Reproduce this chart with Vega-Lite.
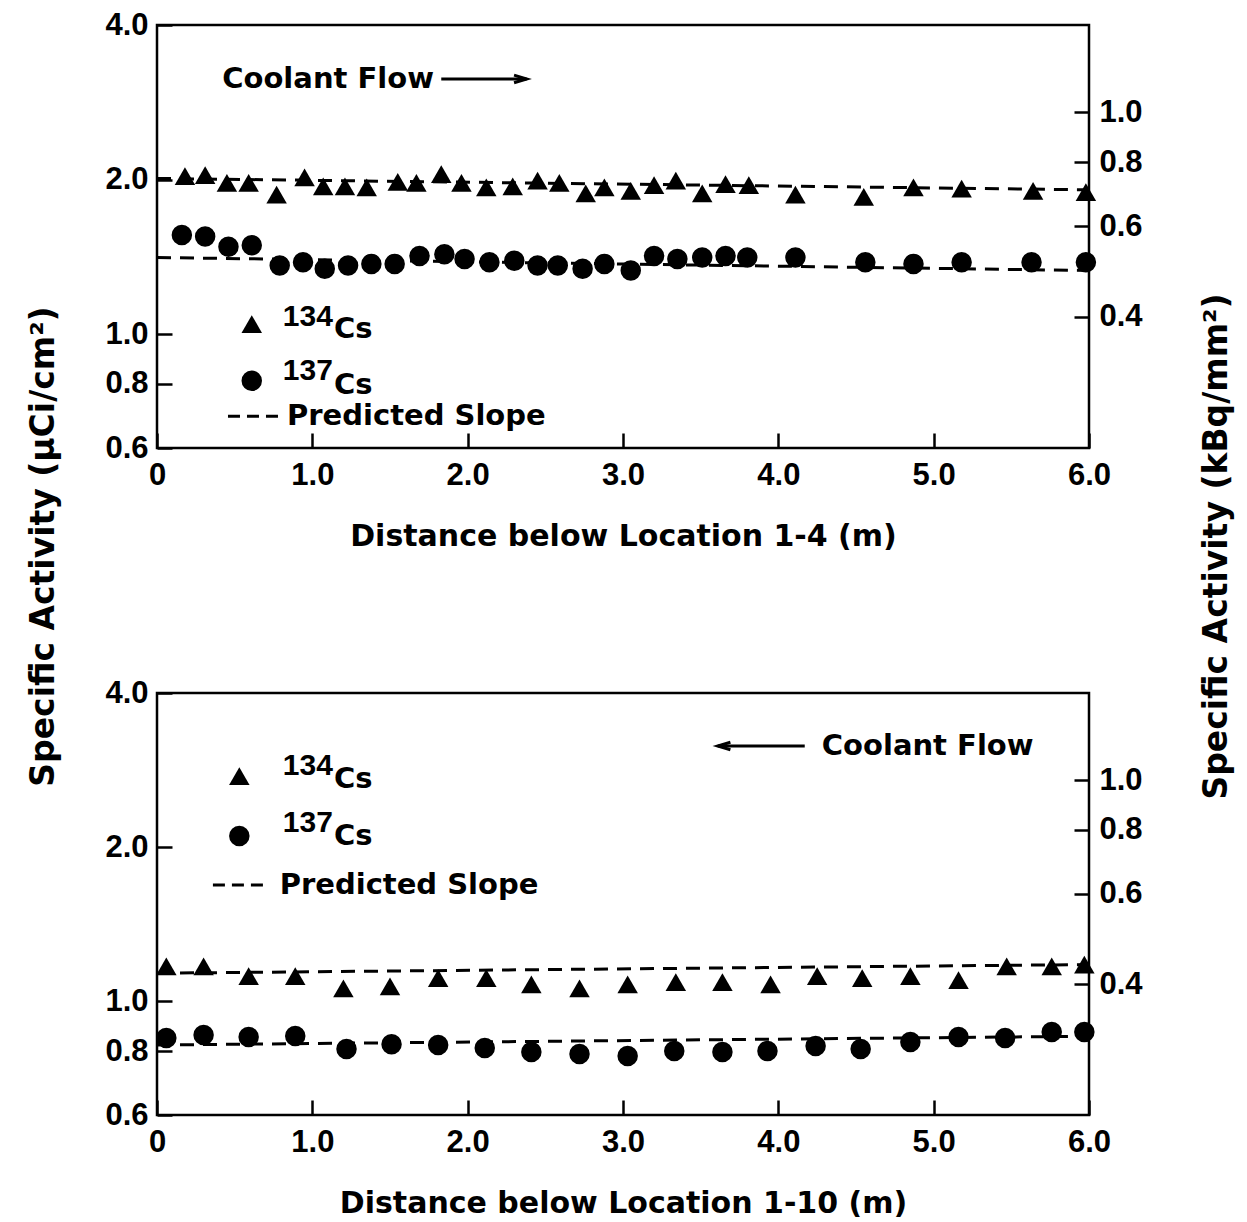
{
  "$schema": "https://vega.github.io/schema/vega-lite/v6.json",
  "background": "white",
  "padding": {"left": 25, "top": 7, "right": 5, "bottom": 5},
  "bounds": "flush",
  "spacing": 245,
  "config": {
    "view": {"stroke": "black", "strokeWidth": 2.5},
    "axis": {
      "grid": false, "domain": false, "ticks": true, "tickColor": "black", "tickWidth": 2.5, "tickSize": -15,
      "labelFont": "Liberation Sans", "labelFontWeight": "bold", "labelFontSize": 31, "labelColor": "black",
      "titleFont": "DejaVu Sans", "titleFontWeight": "bold", "titleFontSize": 30, "titleColor": "black"
    }
  },
  "datasets": {
    "points": [
      {"panel": "top", "nuclide": "134Cs", "distance": 0.18, "activity": 2.03},
      {"panel": "top", "nuclide": "134Cs", "distance": 0.31, "activity": 2.04},
      {"panel": "top", "nuclide": "134Cs", "distance": 0.45, "activity": 1.97},
      {"panel": "top", "nuclide": "134Cs", "distance": 0.59, "activity": 1.97},
      {"panel": "top", "nuclide": "134Cs", "distance": 0.77, "activity": 1.87},
      {"panel": "top", "nuclide": "134Cs", "distance": 0.95, "activity": 2.02},
      {"panel": "top", "nuclide": "134Cs", "distance": 1.07, "activity": 1.94},
      {"panel": "top", "nuclide": "134Cs", "distance": 1.21, "activity": 1.94},
      {"panel": "top", "nuclide": "134Cs", "distance": 1.35, "activity": 1.93},
      {"panel": "top", "nuclide": "134Cs", "distance": 1.55, "activity": 1.98},
      {"panel": "top", "nuclide": "134Cs", "distance": 1.67, "activity": 1.97},
      {"panel": "top", "nuclide": "134Cs", "distance": 1.83, "activity": 2.05},
      {"panel": "top", "nuclide": "134Cs", "distance": 1.96, "activity": 1.97},
      {"panel": "top", "nuclide": "134Cs", "distance": 2.12, "activity": 1.93},
      {"panel": "top", "nuclide": "134Cs", "distance": 2.29, "activity": 1.94},
      {"panel": "top", "nuclide": "134Cs", "distance": 2.45, "activity": 1.99},
      {"panel": "top", "nuclide": "134Cs", "distance": 2.59, "activity": 1.97},
      {"panel": "top", "nuclide": "134Cs", "distance": 2.76, "activity": 1.88},
      {"panel": "top", "nuclide": "134Cs", "distance": 2.88, "activity": 1.93},
      {"panel": "top", "nuclide": "134Cs", "distance": 3.05, "activity": 1.9},
      {"panel": "top", "nuclide": "134Cs", "distance": 3.2, "activity": 1.95},
      {"panel": "top", "nuclide": "134Cs", "distance": 3.34, "activity": 1.99},
      {"panel": "top", "nuclide": "134Cs", "distance": 3.51, "activity": 1.88},
      {"panel": "top", "nuclide": "134Cs", "distance": 3.66, "activity": 1.96},
      {"panel": "top", "nuclide": "134Cs", "distance": 3.81, "activity": 1.95},
      {"panel": "top", "nuclide": "134Cs", "distance": 4.11, "activity": 1.87},
      {"panel": "top", "nuclide": "134Cs", "distance": 4.55, "activity": 1.85},
      {"panel": "top", "nuclide": "134Cs", "distance": 4.87, "activity": 1.93},
      {"panel": "top", "nuclide": "134Cs", "distance": 5.18, "activity": 1.92},
      {"panel": "top", "nuclide": "134Cs", "distance": 5.64, "activity": 1.9},
      {"panel": "top", "nuclide": "134Cs", "distance": 5.98, "activity": 1.89},
      {"panel": "top", "nuclide": "137Cs", "distance": 0.16, "activity": 1.56},
      {"panel": "top", "nuclide": "137Cs", "distance": 0.31, "activity": 1.55},
      {"panel": "top", "nuclide": "137Cs", "distance": 0.46, "activity": 1.48},
      {"panel": "top", "nuclide": "137Cs", "distance": 0.61, "activity": 1.49},
      {"panel": "top", "nuclide": "137Cs", "distance": 0.79, "activity": 1.36},
      {"panel": "top", "nuclide": "137Cs", "distance": 0.94, "activity": 1.38},
      {"panel": "top", "nuclide": "137Cs", "distance": 1.08, "activity": 1.34},
      {"panel": "top", "nuclide": "137Cs", "distance": 1.23, "activity": 1.36},
      {"panel": "top", "nuclide": "137Cs", "distance": 1.38, "activity": 1.37},
      {"panel": "top", "nuclide": "137Cs", "distance": 1.53, "activity": 1.37},
      {"panel": "top", "nuclide": "137Cs", "distance": 1.69, "activity": 1.42},
      {"panel": "top", "nuclide": "137Cs", "distance": 1.85, "activity": 1.43},
      {"panel": "top", "nuclide": "137Cs", "distance": 1.98, "activity": 1.4},
      {"panel": "top", "nuclide": "137Cs", "distance": 2.14, "activity": 1.38},
      {"panel": "top", "nuclide": "137Cs", "distance": 2.3, "activity": 1.39},
      {"panel": "top", "nuclide": "137Cs", "distance": 2.45, "activity": 1.36},
      {"panel": "top", "nuclide": "137Cs", "distance": 2.58, "activity": 1.36},
      {"panel": "top", "nuclide": "137Cs", "distance": 2.74, "activity": 1.34},
      {"panel": "top", "nuclide": "137Cs", "distance": 2.88, "activity": 1.37},
      {"panel": "top", "nuclide": "137Cs", "distance": 3.05, "activity": 1.33},
      {"panel": "top", "nuclide": "137Cs", "distance": 3.2, "activity": 1.42},
      {"panel": "top", "nuclide": "137Cs", "distance": 3.35, "activity": 1.4},
      {"panel": "top", "nuclide": "137Cs", "distance": 3.51, "activity": 1.41},
      {"panel": "top", "nuclide": "137Cs", "distance": 3.66, "activity": 1.42},
      {"panel": "top", "nuclide": "137Cs", "distance": 3.8, "activity": 1.41},
      {"panel": "top", "nuclide": "137Cs", "distance": 4.11, "activity": 1.41},
      {"panel": "top", "nuclide": "137Cs", "distance": 4.56, "activity": 1.38},
      {"panel": "top", "nuclide": "137Cs", "distance": 4.87, "activity": 1.37},
      {"panel": "top", "nuclide": "137Cs", "distance": 5.18, "activity": 1.38},
      {"panel": "top", "nuclide": "137Cs", "distance": 5.63, "activity": 1.38},
      {"panel": "top", "nuclide": "137Cs", "distance": 5.98, "activity": 1.38},
      {"panel": "bottom", "nuclide": "134Cs", "distance": 0.06, "activity": 1.17},
      {"panel": "bottom", "nuclide": "134Cs", "distance": 0.3, "activity": 1.17},
      {"panel": "bottom", "nuclide": "134Cs", "distance": 0.59, "activity": 1.12},
      {"panel": "bottom", "nuclide": "134Cs", "distance": 0.89, "activity": 1.12},
      {"panel": "bottom", "nuclide": "134Cs", "distance": 1.2, "activity": 1.06},
      {"panel": "bottom", "nuclide": "134Cs", "distance": 1.5, "activity": 1.07},
      {"panel": "bottom", "nuclide": "134Cs", "distance": 1.81, "activity": 1.11},
      {"panel": "bottom", "nuclide": "134Cs", "distance": 2.12, "activity": 1.11},
      {"panel": "bottom", "nuclide": "134Cs", "distance": 2.41, "activity": 1.08},
      {"panel": "bottom", "nuclide": "134Cs", "distance": 2.72, "activity": 1.06},
      {"panel": "bottom", "nuclide": "134Cs", "distance": 3.03, "activity": 1.08},
      {"panel": "bottom", "nuclide": "134Cs", "distance": 3.34, "activity": 1.09},
      {"panel": "bottom", "nuclide": "134Cs", "distance": 3.64, "activity": 1.09},
      {"panel": "bottom", "nuclide": "134Cs", "distance": 3.95, "activity": 1.08},
      {"panel": "bottom", "nuclide": "134Cs", "distance": 4.25, "activity": 1.12},
      {"panel": "bottom", "nuclide": "134Cs", "distance": 4.54, "activity": 1.11},
      {"panel": "bottom", "nuclide": "134Cs", "distance": 4.85, "activity": 1.12},
      {"panel": "bottom", "nuclide": "134Cs", "distance": 5.16, "activity": 1.1},
      {"panel": "bottom", "nuclide": "134Cs", "distance": 5.47, "activity": 1.17},
      {"panel": "bottom", "nuclide": "134Cs", "distance": 5.76, "activity": 1.17},
      {"panel": "bottom", "nuclide": "134Cs", "distance": 5.97, "activity": 1.18},
      {"panel": "bottom", "nuclide": "137Cs", "distance": 0.06, "activity": 0.848},
      {"panel": "bottom", "nuclide": "137Cs", "distance": 0.3, "activity": 0.86},
      {"panel": "bottom", "nuclide": "137Cs", "distance": 0.59, "activity": 0.852},
      {"panel": "bottom", "nuclide": "137Cs", "distance": 0.89, "activity": 0.856},
      {"panel": "bottom", "nuclide": "137Cs", "distance": 1.22, "activity": 0.807},
      {"panel": "bottom", "nuclide": "137Cs", "distance": 1.51, "activity": 0.825},
      {"panel": "bottom", "nuclide": "137Cs", "distance": 1.81, "activity": 0.822},
      {"panel": "bottom", "nuclide": "137Cs", "distance": 2.11, "activity": 0.811},
      {"panel": "bottom", "nuclide": "137Cs", "distance": 2.41, "activity": 0.796},
      {"panel": "bottom", "nuclide": "137Cs", "distance": 2.72, "activity": 0.789},
      {"panel": "bottom", "nuclide": "137Cs", "distance": 3.03, "activity": 0.782},
      {"panel": "bottom", "nuclide": "137Cs", "distance": 3.33, "activity": 0.8},
      {"panel": "bottom", "nuclide": "137Cs", "distance": 3.64, "activity": 0.796},
      {"panel": "bottom", "nuclide": "137Cs", "distance": 3.93, "activity": 0.8},
      {"panel": "bottom", "nuclide": "137Cs", "distance": 4.24, "activity": 0.818},
      {"panel": "bottom", "nuclide": "137Cs", "distance": 4.53, "activity": 0.807},
      {"panel": "bottom", "nuclide": "137Cs", "distance": 4.85, "activity": 0.833},
      {"panel": "bottom", "nuclide": "137Cs", "distance": 5.16, "activity": 0.852},
      {"panel": "bottom", "nuclide": "137Cs", "distance": 5.46, "activity": 0.848},
      {"panel": "bottom", "nuclide": "137Cs", "distance": 5.76, "activity": 0.871},
      {"panel": "bottom", "nuclide": "137Cs", "distance": 5.97, "activity": 0.871}
    ],
    "predicted": [
      {"panel": "top", "nuclide": "134Cs", "distance": 0, "activity": 2.01},
      {"panel": "top", "nuclide": "134Cs", "distance": 6, "activity": 1.91},
      {"panel": "top", "nuclide": "137Cs", "distance": 0, "activity": 1.41},
      {"panel": "top", "nuclide": "137Cs", "distance": 6, "activity": 1.33},
      {"panel": "bottom", "nuclide": "134Cs", "distance": 0, "activity": 1.135},
      {"panel": "bottom", "nuclide": "134Cs", "distance": 6, "activity": 1.18},
      {"panel": "bottom", "nuclide": "137Cs", "distance": 0, "activity": 0.822},
      {"panel": "bottom", "nuclide": "137Cs", "distance": 6, "activity": 0.855}
    ],
    "labels": [
      {"panel": "top", "distance": 0.42, "activity": 3.14, "label": "Coolant Flow"},
      {"panel": "top", "distance": 0.81, "activity": 1.079, "label": "134"},
      {"panel": "top", "distance": 1.14, "activity": 1.023, "label": "Cs"},
      {"panel": "top", "distance": 0.81, "activity": 0.848, "label": "137"},
      {"panel": "top", "distance": 1.14, "activity": 0.796, "label": "Cs"},
      {"panel": "top", "distance": 0.837, "activity": 0.692, "label": "Predicted Slope"},
      {"panel": "bottom", "distance": 4.28, "activity": 3.152, "label": "Coolant Flow"},
      {"panel": "bottom", "distance": 0.81, "activity": 2.881, "label": "134"},
      {"panel": "bottom", "distance": 1.14, "activity": 2.717, "label": "Cs"},
      {"panel": "bottom", "distance": 0.81, "activity": 2.23, "label": "137"},
      {"panel": "bottom", "distance": 1.14, "activity": 2.103, "label": "Cs"},
      {"panel": "bottom", "distance": 0.79, "activity": 1.687, "label": "Predicted Slope"}
    ],
    "legendSymbols": [
      {"panel": "top", "nuclide": "134Cs", "distance": 0.61, "activity": 1.046},
      {"panel": "top", "nuclide": "137Cs", "distance": 0.61, "activity": 0.811},
      {"panel": "bottom", "nuclide": "134Cs", "distance": 0.53, "activity": 2.754},
      {"panel": "bottom", "nuclide": "137Cs", "distance": 0.53, "activity": 2.103}
    ],
    "legendDash": [
      {"panel": "top", "distance": 0.457, "distance2": 0.805, "activity": 0.692},
      {"panel": "bottom", "distance": 0.36, "distance2": 0.695, "activity": 1.687}
    ],
    "arrows": [
      {"panel": "top", "distance": 1.83, "distance2": 2.38, "activity": 3.14},
      {"panel": "bottom", "distance": 4.17, "distance2": 3.61, "activity": 3.152}
    ]
  },
  "vconcat": [
    {
      "width": 932,
      "height": 423,
      "resolve": {"axis": {"y": "independent"}},
      "layer": [
        {
          "data": {"name": "points"},
          "transform": [{"filter": "datum.panel === 'top'"}],
          "mark": {"type": "point", "filled": true, "size": 420, "color": "black", "opacity": 1},
          "encoding": {
            "x": {"field": "distance", "type": "quantitative", "scale": {"domain": [0, 6], "nice": false, "zero": false},
              "axis": {"values": [0, 1, 2, 3, 4, 5, 6], "labelFlush": false, "labelExpr": "datum.value == 0 ? '0' : format(datum.value, '.1f')", "labelPadding": 27, "title": "Distance below Location 1-4 (m)", "titlePadding": 31}},
            "y": {"field": "activity", "type": "quantitative", "scale": {"type": "log", "domain": [0.6, 4], "nice": false},
              "axis": {"orient": "left", "values": [0.6, 0.8, 1, 2, 4], "format": ".1f", "labelPadding": 24,
                "title": "Specific Activity (μCi/cm²)", "titleFontSize": 33, "titleX": -114, "titleY": 521, "titleAngle": 270, "titleAlign": "center", "titleBaseline": "middle"}},
            "shape": {"field": "nuclide", "type": "nominal", "scale": {"domain": ["134Cs", "137Cs"], "range": ["triangle-up", "circle"]}, "legend": null}
          }
        },
        {
          "data": {"name": "points"},
          "transform": [{"filter": "datum.panel === 'top'"}],
          "mark": {"type": "point", "opacity": 0},
          "encoding": {
            "x": {"field": "distance", "type": "quantitative"},
            "y": {"field": "activity", "type": "quantitative",
              "axis": {"orient": "right", "values": [1.08108, 1.62162, 2.16216, 2.7027], "labelExpr": "format(datum.value * 0.37, '.1f')", "labelPadding": 25,
                "title": "Specific Activity (kBq/mm²)", "titleFontSize": 33, "titleX": 127, "titleY": 521, "titleAngle": 270, "titleAlign": "center", "titleBaseline": "middle"}}
          }
        },
        {
          "data": {"name": "predicted"},
          "transform": [{"filter": "datum.panel === 'top'"}],
          "mark": {"type": "line", "color": "black", "strokeWidth": 3, "strokeDash": [14, 9]},
          "encoding": {
            "x": {"field": "distance", "type": "quantitative"},
            "y": {"field": "activity", "type": "quantitative", "axis": null},
            "detail": {"field": "nuclide", "type": "nominal"}
          }
        },
        {
          "data": {"name": "legendSymbols"},
          "transform": [{"filter": "datum.panel === 'top'"}],
          "mark": {"type": "point", "filled": true, "size": 420, "color": "black", "opacity": 1},
          "encoding": {
            "x": {"field": "distance", "type": "quantitative"},
            "y": {"field": "activity", "type": "quantitative", "axis": null},
            "shape": {"field": "nuclide", "type": "nominal", "legend": null}
          }
        },
        {
          "data": {"name": "legendDash"},
          "transform": [{"filter": "datum.panel === 'top'"}],
          "mark": {"type": "rule", "color": "black", "strokeWidth": 3, "strokeDash": [12, 7]},
          "encoding": {
            "x": {"field": "distance", "type": "quantitative"},
            "x2": {"field": "distance2"},
            "y": {"field": "activity", "type": "quantitative", "axis": null}
          }
        },
        {
          "data": {"name": "arrows"},
          "transform": [{"filter": "datum.panel === 'top'"}],
          "mark": {"type": "rule", "color": "black", "strokeWidth": 3},
          "encoding": {
            "x": {"field": "distance", "type": "quantitative"},
            "x2": {"field": "distance2"},
            "y": {"field": "activity", "type": "quantitative", "axis": null}
          }
        },
        {
          "data": {"name": "arrows"},
          "transform": [{"filter": "datum.panel === 'top'"}],
          "mark": {"type": "point", "shape": "M -2 -0.6 L 0 0 L -2 0.6", "size": 160, "filled": false, "color": "black", "strokeWidth": 3, "opacity": 1},
          "encoding": {
            "x": {"field": "distance2", "type": "quantitative"},
            "y": {"field": "activity", "type": "quantitative", "axis": null}
          }
        },
        {
          "data": {"name": "labels"},
          "transform": [{"filter": "datum.panel === 'top' && !test(/^[0-9]+$/, datum.label)"}],
          "mark": {"type": "text", "align": "left", "baseline": "middle", "font": "DejaVu Sans", "fontWeight": "bold", "fontSize": 29, "color": "black"},
          "encoding": {
            "x": {"field": "distance", "type": "quantitative"},
            "y": {"field": "activity", "type": "quantitative", "axis": null},
            "text": {"field": "label", "type": "nominal"}
          }
        },
        {
          "data": {"name": "labels"},
          "transform": [{"filter": "datum.panel === 'top' && test(/^[0-9]+$/, datum.label)"}],
          "mark": {"type": "text", "align": "left", "baseline": "middle", "font": "Liberation Sans", "fontWeight": "bold", "fontSize": 30, "color": "black"},
          "encoding": {
            "x": {"field": "distance", "type": "quantitative"},
            "y": {"field": "activity", "type": "quantitative", "axis": null},
            "text": {"field": "label", "type": "nominal"}
          }
        }
      ]
    },
    {
      "width": 932,
      "height": 422,
      "resolve": {"axis": {"y": "independent"}},
      "layer": [
        {
          "data": {"name": "points"},
          "transform": [{"filter": "datum.panel === 'bottom'"}],
          "mark": {"type": "point", "filled": true, "size": 420, "color": "black", "opacity": 1},
          "encoding": {
            "x": {"field": "distance", "type": "quantitative", "scale": {"domain": [0, 6], "nice": false, "zero": false},
              "axis": {"values": [0, 1, 2, 3, 4, 5, 6], "labelFlush": false, "labelExpr": "datum.value == 0 ? '0' : format(datum.value, '.1f')", "labelPadding": 27, "title": "Distance below Location 1-10 (m)", "titlePadding": 31}},
            "y": {"field": "activity", "type": "quantitative", "scale": {"type": "log", "domain": [0.6, 4], "nice": false},
              "axis": {"orient": "left", "values": [0.6, 0.8, 1, 2, 4], "format": ".1f", "labelPadding": 24, "title": null}},
            "shape": {"field": "nuclide", "type": "nominal", "scale": {"domain": ["134Cs", "137Cs"], "range": ["triangle-up", "circle"]}, "legend": null}
          }
        },
        {
          "data": {"name": "points"},
          "transform": [{"filter": "datum.panel === 'bottom'"}],
          "mark": {"type": "point", "opacity": 0},
          "encoding": {
            "x": {"field": "distance", "type": "quantitative"},
            "y": {"field": "activity", "type": "quantitative",
              "axis": {"orient": "right", "values": [1.08108, 1.62162, 2.16216, 2.7027], "labelExpr": "format(datum.value * 0.37, '.1f')", "labelPadding": 25, "title": null}}
          }
        },
        {
          "data": {"name": "predicted"},
          "transform": [{"filter": "datum.panel === 'bottom'"}],
          "mark": {"type": "line", "color": "black", "strokeWidth": 3, "strokeDash": [14, 9]},
          "encoding": {
            "x": {"field": "distance", "type": "quantitative"},
            "y": {"field": "activity", "type": "quantitative", "axis": null},
            "detail": {"field": "nuclide", "type": "nominal"}
          }
        },
        {
          "data": {"name": "legendSymbols"},
          "transform": [{"filter": "datum.panel === 'bottom'"}],
          "mark": {"type": "point", "filled": true, "size": 420, "color": "black", "opacity": 1},
          "encoding": {
            "x": {"field": "distance", "type": "quantitative"},
            "y": {"field": "activity", "type": "quantitative", "axis": null},
            "shape": {"field": "nuclide", "type": "nominal", "legend": null}
          }
        },
        {
          "data": {"name": "legendDash"},
          "transform": [{"filter": "datum.panel === 'bottom'"}],
          "mark": {"type": "rule", "color": "black", "strokeWidth": 3, "strokeDash": [12, 7]},
          "encoding": {
            "x": {"field": "distance", "type": "quantitative"},
            "x2": {"field": "distance2"},
            "y": {"field": "activity", "type": "quantitative", "axis": null}
          }
        },
        {
          "data": {"name": "arrows"},
          "transform": [{"filter": "datum.panel === 'bottom'"}],
          "mark": {"type": "rule", "color": "black", "strokeWidth": 3},
          "encoding": {
            "x": {"field": "distance", "type": "quantitative"},
            "x2": {"field": "distance2"},
            "y": {"field": "activity", "type": "quantitative", "axis": null}
          }
        },
        {
          "data": {"name": "arrows"},
          "transform": [{"filter": "datum.panel === 'bottom'"}],
          "mark": {"type": "point", "shape": "M 2 -0.6 L 0 0 L 2 0.6", "size": 160, "filled": false, "color": "black", "strokeWidth": 3, "opacity": 1},
          "encoding": {
            "x": {"field": "distance2", "type": "quantitative"},
            "y": {"field": "activity", "type": "quantitative", "axis": null}
          }
        },
        {
          "data": {"name": "labels"},
          "transform": [{"filter": "datum.panel === 'bottom' && !test(/^[0-9]+$/, datum.label)"}],
          "mark": {"type": "text", "align": "left", "baseline": "middle", "font": "DejaVu Sans", "fontWeight": "bold", "fontSize": 29, "color": "black"},
          "encoding": {
            "x": {"field": "distance", "type": "quantitative"},
            "y": {"field": "activity", "type": "quantitative", "axis": null},
            "text": {"field": "label", "type": "nominal"}
          }
        },
        {
          "data": {"name": "labels"},
          "transform": [{"filter": "datum.panel === 'bottom' && test(/^[0-9]+$/, datum.label)"}],
          "mark": {"type": "text", "align": "left", "baseline": "middle", "font": "Liberation Sans", "fontWeight": "bold", "fontSize": 30, "color": "black"},
          "encoding": {
            "x": {"field": "distance", "type": "quantitative"},
            "y": {"field": "activity", "type": "quantitative", "axis": null},
            "text": {"field": "label", "type": "nominal"}
          }
        }
      ]
    }
  ]
}
